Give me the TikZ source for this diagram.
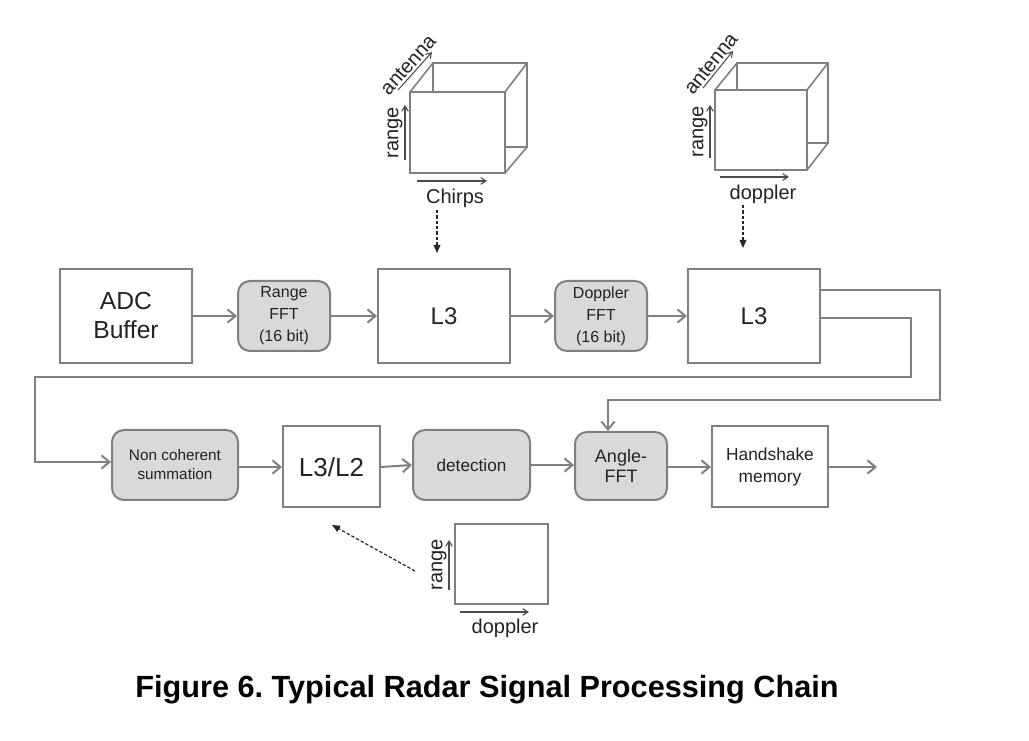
\documentclass[tikz,border=0pt]{standalone}
\usepackage{fontspec}
\setmainfont{Liberation Sans}
\usetikzlibrary{arrows.meta}
\definecolor{lc}{RGB}{128,128,128}
\definecolor{fc}{RGB}{217,217,217}
\definecolor{tc}{RGB}{35,35,35}
\newcommand{\fsz}[2]{\fontsize{#1}{#2}\selectfont}
\frenchspacing
\begin{document}
\begin{tikzpicture}[x=0.75pt,y=-0.75pt,
  box/.style={draw=lc,line width=1.5pt,fill=white,inner sep=0pt,text=tc,align=center},
  gbox/.style={box,fill=fc,rounded corners=9pt},
  flow/.style={draw=lc,line width=1.5pt,-{Straight Barb[length=6pt,width=10pt,line width=1.5pt]}},
  dflow/.style={draw=black!85,dashed,dash pattern=on 2.5pt off 1.5pt,line width=0.9pt,-{Triangle[length=6pt,width=5pt]}},
  ax/.style={draw=black!70,line width=0.8pt,-{Straight Barb[length=4pt,width=5pt]}},
  cube/.style={draw=lc,line width=1.2pt},
  axl/.style={text=tc,font=\fsz{15}{17},inner sep=1.5pt},
]
\useasboundingbox (0,0) rectangle (1029,741);

% top row
\node[box,minimum width=99pt,minimum height=71pt,font=\fsz{18.5}{21.75}] (adc) at (126,316) {ADC\\Buffer};
\node[gbox,minimum width=69pt,minimum height=52.5pt,font=\fsz{12}{16.5}] (rfft) at (284,316) {Range\\FFT\\(16 bit)};
\node[box,minimum width=99pt,minimum height=71pt,font=\fsz{18}{21}] (l3a) at (444,316) {L3};
\node[gbox,minimum width=69pt,minimum height=52.5pt,font=\fsz{12}{16.5}] (dfft) at (601,316) {Doppler\\FFT\\(16 bit)};
\node[box,minimum width=99pt,minimum height=71pt,font=\fsz{18}{21}] (l3b) at (754,316) {L3};

% bottom row
\node[gbox,minimum width=94.5pt,minimum height=52.5pt,font=\fsz{11.5}{14.25}] (nc) at (175,465) {Non coherent\\summation};
\node[box,minimum width=72.75pt,minimum height=60.75pt,font=\fsz{19.5}{22}] (l32) at (331.5,467) {L3/L2};
\node[gbox,minimum width=87.75pt,minimum height=52.5pt,font=\fsz{12.9}{15}] (det) at (471.5,465) {detection};
\node[gbox,minimum width=69pt,minimum height=51pt,font=\fsz{13.5}{15}] (ang) at (621,466) {Angle-\\FFT};
\node[box,minimum width=87pt,minimum height=60.75pt,font=\fsz{13}{16.5}] (hs) at (770,467) {Handshake\\memory};
\coordinate (out) at (877,467);

% flow arrows
\draw[flow] (adc) -- (rfft);
\draw[flow] (rfft) -- (l3a);
\draw[flow] (l3a) -- (dfft);
\draw[flow] (dfft) -- (l3b);
\draw[flow] (nc.east |- 0,467) -- (l32.west);
\draw[flow] (l32.east) -- (det.west |- 0,465);
\draw[flow] (det.east |- 0,465) -- (ang.west |- 0,465);
\draw[flow] (ang.east |- 0,467) -- (hs.west);
\draw[flow] (hs.east) -- (out);

% feedback lines
\coordinate (r1) at (940,290);
\coordinate (r1b) at (940,400);
\coordinate (r2) at (911,318);
\coordinate (r2b) at (911,377);
\coordinate (lft) at (35,377);
\draw[flow] (l3b.east |- r1) -- (r1) -- (r1b) -| ([xshift=-9.75pt]ang.north);
\draw[flow] (l3b.east |- r2) -- (r2) -- (r2b) -- (lft) |- (nc.west |- 0,462);

% cube 1
\draw[cube] (433,63) rectangle (527,147);
\draw[cube] (410,92) -- (433,63) (505,92) -- (527,63) (505,173) -- (527,147);
\draw[cube,fill=white] (410,92) rectangle (505,173);
\draw[ax] (398,90) -- node[axl,sloped,above] (ant1) {antenna} (432,52);
\draw[ax] (405,160) -- node[axl,sloped,above] (rg1) {range} (405,105);
\draw[ax] (417,181) -- (487,181);
\node[axl] (ch1) at (455,198) {Chirps};
\coordinate (d1s) at (437,210);
\coordinate (d1e) at (437,253);
\draw[dflow] (d1s) -- (d1e);

% cube 2
\draw[cube] (737,63) rectangle (828,143);
\draw[cube] (715,90) -- (737,63) (807,90) -- (828,63) (807,170) -- (828,143);
\draw[cube,fill=white] (715,90) rectangle (807,170);
\draw[ax] (703,88) -- node[axl,sloped,above] (ant2) {antenna} (733,51);
\draw[ax] (710,158) -- node[axl,sloped,above] (rg2) {range} (710,105);
\draw[ax] (720,177) -- (789,177);
\node[axl] (dp2) at (763,194) {doppler};
\coordinate (d2s) at (743,205);
\coordinate (d2e) at (743,248);
\draw[dflow] (d2s) -- (d2e);

% range-doppler map
\draw[cube] (455,524) rectangle (548,604);
\draw[ax] (449,590) -- node[axl,sloped,above] (rg3) {range} (449,540);
\draw[ax] (460,612) -- (529,612);
\node[axl] (dp3) at (505,628) {doppler};
\coordinate (d3s) at (415,571);
\coordinate (d3e) at (332,525);
\draw[dflow] (d3s) -- (d3e);

% caption
\node[font=\fsz{23}{26}\bfseries,text=black] (cap) at (487,690) {Figure 6. Typical Radar Signal Processing Chain};
\end{tikzpicture}
\end{document}
